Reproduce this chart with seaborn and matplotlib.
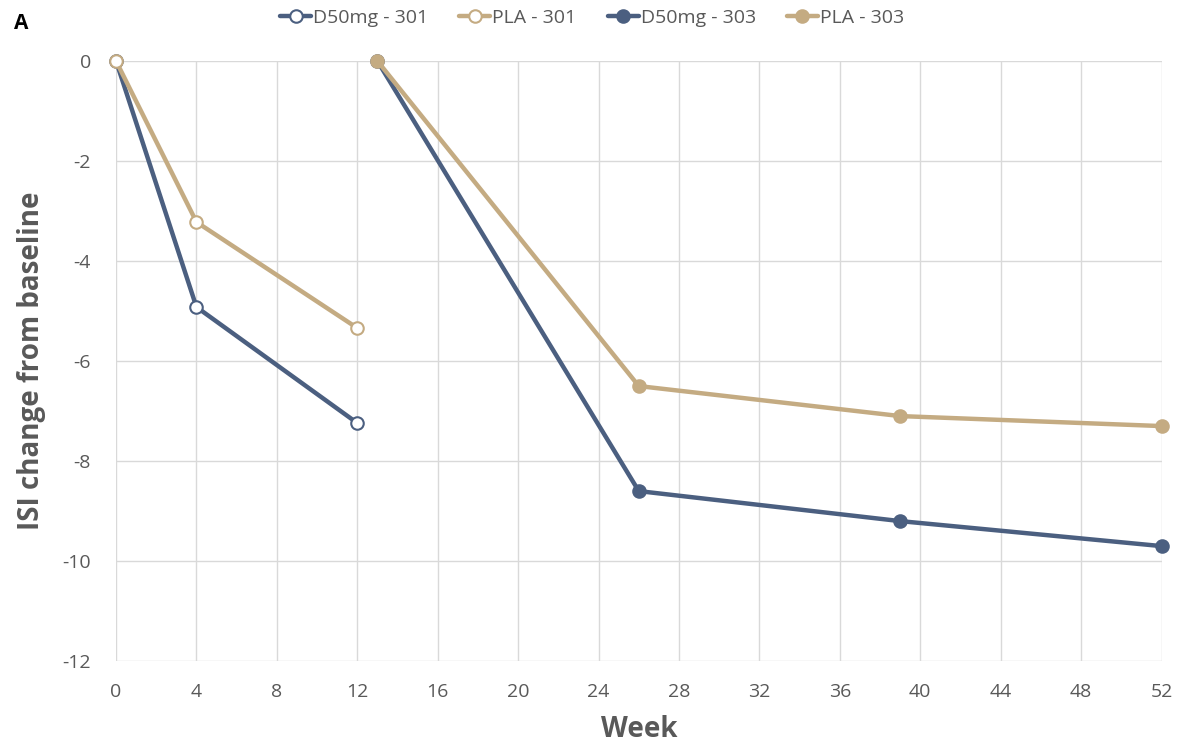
import matplotlib
matplotlib.use("Agg")
import matplotlib.pyplot as plt
import seaborn as sns
import pandas as pd

# Data
weeks_301 = [0, 4, 12]
d50_301 = [0, -4.92, -7.24]
pla_301 = [0, -3.22, -5.34]

weeks_303 = [13, 26, 39, 52]
d50_303 = [0, -8.6, -9.2, -9.7]
pla_303 = [0, -6.5, -7.1, -7.3]

navy = '#4B5F80'
tan = '#C4AB82'
text_gray = '#595959'

series = [
    ('D50mg - 301', weeks_301, d50_301, navy, True),
    ('PLA - 301', weeks_301, pla_301, tan, True),
    ('D50mg - 303', weeks_303, d50_303, navy, False),
    ('PLA - 303', weeks_303, pla_303, tan, False),
]

rows = []
for name, wk, vals, _, _ in series:
    for w, v in zip(wk, vals):
        rows.append({'series': name, 'week': w, 'value': v})
df = pd.DataFrame(rows)

sns.set_style("white")
plt.rcParams['font.family'] = ['Open Sans', 'DejaVu Sans']
plt.rcParams['axes.unicode_minus'] = False

fig = plt.figure(figsize=(11.84, 7.53), dpi=100)
ax = fig.add_axes([0.098, 0.122, 0.883, 0.797])

handles = []
for name, wk, vals, color, hollow in series:
    sub = df[df['series'] == name]
    sns.lineplot(data=sub, x='week', y='value', ax=ax, color=color, lw=3.2,
                 marker='o', markersize=9, markeredgewidth=1.5,
                 markerfacecolor='white' if hollow else color,
                 markeredgecolor=color, label=name, legend=False, zorder=3)
    handles.append(ax.lines[-1])

ax.set_xlim(0, 52)
ax.set_ylim(-12, 0)
ax.set_xticks(range(0, 53, 4))
ax.set_yticks(range(-12, 1, 2))
ax.grid(True, color='#D9D9D9', lw=1)
for s in ax.spines.values():
    s.set_visible(False)
ax.tick_params(axis='both', length=0, labelsize=14, colors=text_gray)
ax.tick_params(axis='x', pad=16)
ax.tick_params(axis='y', pad=18)

ax.set_xlabel('Week', fontsize=20, fontweight='bold', color=text_gray, labelpad=10)
ax.set_ylabel('ISI change from baseline', fontsize=20, fontweight='bold', color=text_gray, labelpad=12)

for line in ax.lines:
    line.set_clip_on(False)

fig.legend(handles=handles, labels=[s[0] for s in series], loc='center',
           bbox_to_anchor=(0.5, 0.976), ncol=4, frameon=False, fontsize=14,
           handlelength=1.6, handletextpad=0.1, columnspacing=1.6,
           labelcolor=text_gray)

fig.text(0.012, 0.962, 'A', fontsize=15, fontweight='bold', color='black')

fig.savefig('out.png', dpi=100)
